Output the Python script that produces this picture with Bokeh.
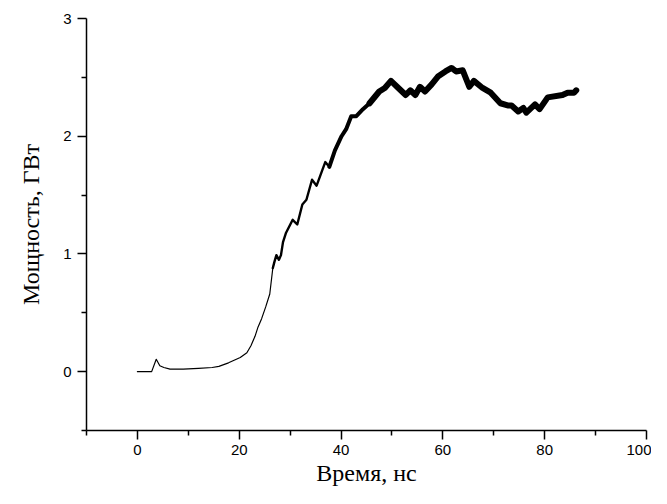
from bokeh.plotting import figure
from bokeh.models import Range1d, FixedTicker
from bokeh.embed import file_html
from bokeh.resources import INLINE

time_ns = [0, 2.8, 3.7, 4.4, 5.2, 6.4, 9, 12, 14.7, 16, 17.9, 20.2, 21.5, 22.3, 23.1, 23.7,
           24.4, 25.2, 26, 26.6, 26.9, 27.3, 27.8, 28.2, 28.6, 29.2, 30.5, 31.4, 32.4, 33.2,
           34.3, 35.2, 36.3, 36.9, 37.7, 38.8, 40.1, 41, 42, 43, 44.3, 45.6, 47.5, 48.6,
           49.8, 51, 52.7, 53.6, 54.6, 55.5, 56.5, 57.8, 59.1, 60.5, 61.7, 62.6, 63.9, 65.2,
           66.1, 67.8, 69.4, 71.3, 72.9, 73.5, 74.8, 75.8, 76.4, 78.1, 79, 80.6, 83.5, 84.5,
           85.8, 86.2]
power_gw = [0, 0, 0.105, 0.05, 0.035, 0.022, 0.022, 0.028, 0.035, 0.045, 0.075, 0.12, 0.16,
            0.22, 0.3, 0.38, 0.45, 0.55, 0.66, 0.88, 0.93, 0.99, 0.95, 0.99, 1.1, 1.18, 1.29,
            1.25, 1.42, 1.46, 1.63, 1.58, 1.71, 1.78, 1.74, 1.88, 2.0, 2.06, 2.17, 2.17, 2.23,
            2.28, 2.38, 2.41, 2.47, 2.42, 2.35, 2.39, 2.35, 2.42, 2.38, 2.44, 2.51, 2.55, 2.58,
            2.55, 2.56, 2.42, 2.47, 2.41, 2.37, 2.28, 2.26, 2.26, 2.21, 2.24, 2.2, 2.27, 2.23,
            2.33, 2.35, 2.37, 2.37, 2.39]

x_major = [0, 20, 40, 60, 80, 100]
x_minor = [-10, 10, 30, 50, 70, 90]
y_major = [0, 1, 2, 3]
y_minor = [-0.5, 0.5, 1.5, 2.5]

p = figure(width=651, height=488, output_backend="svg", toolbar_location=None,
           x_range=Range1d(-10, 100), y_range=Range1d(-0.5, 3),
           min_border_left=86, min_border_right=5, min_border_top=18, min_border_bottom=56)
p.outline_line_color = None
p.xgrid.visible = False
p.ygrid.visible = False

# trace thickness grows with the noise band
segments = [(0, 27.0, 1.2), (26.6, 38.0, 2.4), (37.7, 46.0, 4.0), (45.6, 90, 6.0)]
for lo, hi, w in segments:
    xs = [t for t in time_ns if lo <= t <= hi]
    ys = [v for t, v in zip(time_ns, power_gw) if lo <= t <= hi]
    p.line(xs, ys, line_color="black", line_width=w, line_join="round", line_cap="round")

p.xaxis.ticker = FixedTicker(ticks=x_major, minor_ticks=x_minor)
p.yaxis.ticker = FixedTicker(ticks=y_major, minor_ticks=y_minor)
for ax in (p.xaxis, p.yaxis):
    ax.axis_line_width = 1.5
    ax.major_tick_line_width = 1.5
    ax.minor_tick_line_width = 1.5
    ax.major_tick_in = 0
    ax.major_tick_out = 9
    ax.minor_tick_in = 0
    ax.minor_tick_out = 5
    ax.major_label_text_font = "Liberation Sans"
    ax.major_label_text_font_size = "15px"
    ax.major_label_text_color = "black"
    ax.axis_label_text_font = "Liberation Serif"
    ax.axis_label_text_font_size = "24px"
    ax.axis_label_text_font_style = "normal"
    ax.axis_label_text_color = "black"
    ax.axis_line_color = "black"
    ax.major_tick_line_color = "black"
    ax.minor_tick_line_color = "black"
p.xaxis.axis_label = "Время, нс"
p.yaxis.axis_label = "Мощность, ГВт"
p.xaxis.major_label_standoff = 5
p.yaxis.major_label_standoff = 6
p.xaxis.axis_label_standoff = 2
p.yaxis.axis_label_standoff = 16

open("out.html", "w").write(file_html(p, INLINE))
